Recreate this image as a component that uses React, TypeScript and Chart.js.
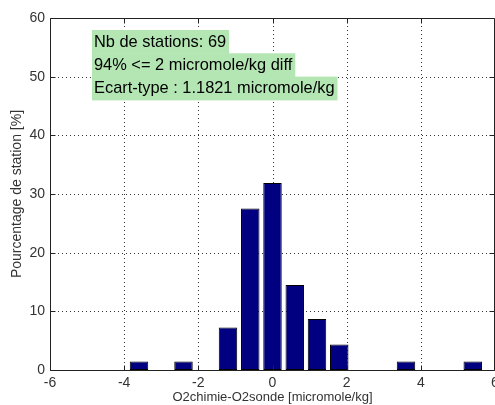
import React, { useEffect, useRef } from "react";
import { Chart, registerables } from "chart.js";

Chart.register(...registerables);

const binCenters = [-3.6, -2.4, -1.2, -0.6, 0, 0.6, 1.2, 1.8, 3.6, 5.4];
const percentages = [1.45, 1.45, 7.25, 27.54, 31.88, 14.49, 8.7, 4.35, 1.45, 1.45];
const xTicks = [-6, -4, -2, 0, 2, 4, 6];
const yTicks = [0, 10, 20, 30, 40, 50, 60];
const infoLines = [
  "Nb de stations: 69",
  "94% <= 2 micromole/kg diff",
  "Ecart-type : 1.1821 micromole/kg",
];
const xTitle = "O2chimie-O2sonde [micromole/kg]";
const yTitle = "Pourcentage de station [%]";

const FONT = '"Liberation Sans", Arial, Helvetica, sans-serif';

const matlabPlugin = {
  id: "matlabAxes",
  beforeDatasetsDraw(chart: any) {
    const { ctx, chartArea: a, scales } = chart;
    const xs = scales.x;
    const ys = scales.y;
    ctx.save();
    ctx.strokeStyle = "#333";
    ctx.lineWidth = 1;
    ctx.setLineDash([1, 3]);
    xTicks.forEach((t) => {
      if (t === xTicks[0] || t === xTicks[xTicks.length - 1]) return;
      const px = Math.round(xs.getPixelForValue(t)) + 0.5;
      ctx.beginPath();
      ctx.moveTo(px, a.top);
      ctx.lineTo(px, a.bottom);
      ctx.stroke();
    });
    yTicks.forEach((t) => {
      if (t === yTicks[0] || t === yTicks[yTicks.length - 1]) return;
      const py = Math.round(ys.getPixelForValue(t)) + 0.5;
      ctx.beginPath();
      ctx.moveTo(a.left, py);
      ctx.lineTo(a.right, py);
      ctx.stroke();
    });
    ctx.restore();
  },
  afterDatasetsDraw(chart: any) {
    const { ctx, chartArea: a, scales } = chart;
    const xs = scales.x;
    const ys = scales.y;
    ctx.save();
    ctx.strokeStyle = "#222";
    ctx.lineWidth = 1;
    ctx.setLineDash([]);
    const L = Math.round(a.left) + 0.5;
    const R = Math.round(a.right) - 0.5;
    const T = Math.round(a.top) + 0.5;
    const B = Math.round(a.bottom) + 0.5;
    ctx.beginPath();
    ctx.moveTo(L, T);
    ctx.lineTo(R, T);
    ctx.lineTo(R, B);
    ctx.lineTo(L, B);
    ctx.closePath();
    ctx.stroke();
    const tl = 5;
    xTicks.forEach((t) => {
      const px = Math.round(xs.getPixelForValue(t)) + 0.5;
      ctx.beginPath();
      ctx.moveTo(px, B);
      ctx.lineTo(px, B - tl);
      ctx.moveTo(px, T);
      ctx.lineTo(px, T + tl);
      ctx.stroke();
    });
    yTicks.forEach((t) => {
      const py = Math.round(ys.getPixelForValue(t)) + 0.5;
      ctx.beginPath();
      ctx.moveTo(L, py);
      ctx.lineTo(L + tl, py);
      ctx.moveTo(R, py);
      ctx.lineTo(R - tl, py);
      ctx.stroke();
    });
    ctx.restore();
  },
  afterDraw(chart: any) {
    const { ctx } = chart;
    ctx.save();
    ctx.font = `16.4px ${FONT}`;
    ctx.textBaseline = "middle";
    const x0 = 92;
    const y0 = 30;
    const lh = 23.3;
    infoLines.forEach((line, i) => {
      const w = ctx.measureText(line).width;
      ctx.fillStyle = "#b3e6b3";
      ctx.fillRect(x0, y0 + i * lh, w + 5, lh + 0.5);
    });
    infoLines.forEach((line, i) => {
      ctx.fillStyle = "#000";
      ctx.fillText(line, x0 + 2, y0 + i * lh + lh / 2 + 0.5);
    });
    ctx.restore();
  },
};

export default function App() {
  const ref = useRef<HTMLCanvasElement | null>(null);
  useEffect(() => {
    if (!ref.current) return;
    const chart = new Chart(ref.current, {
      type: "bar",
      data: {
        datasets: [
          {
            data: binCenters.map((x, i) => ({ x, y: percentages[i] })),
            backgroundColor: "#000080",
            borderColor: "#000000",
            borderWidth: 1,
            borderSkipped: false,
            barPercentage: 0.83,
            categoryPercentage: 1,
          },
        ],
      },
      options: {
        animation: false,
        responsive: false,
        maintainAspectRatio: false,
        layout: { padding: { top: 18, left: 0, right: 0, bottom: 0 } },
        plugins: {
          legend: { display: false },
          tooltip: { enabled: false },
        },
        scales: {
          x: {
            type: "linear",
            min: -6,
            max: 6,
            offset: false,
            grid: { display: false, drawTicks: false },
            border: { display: false },
            ticks: {
              stepSize: 2,
              padding: 5,
              color: "#333",
              font: { family: FONT, size: 14 },
              maxRotation: 0,
              autoSkip: false,
              callback: (v: any) => String(v),
            },
            title: {
              display: true,
              text: xTitle,
              color: "#333",
              font: { family: FONT, size: 13 },
              padding: { top: 0, bottom: 0 },
            },
            afterFit: (s: any) => {
              s.height = 35;
              s.paddingLeft = 0;
              s.paddingRight = 0;
            },
          },
          y: {
            type: "linear",
            min: 0,
            max: 60,
            grid: { display: false, drawTicks: false },
            border: { display: false },
            ticks: {
              stepSize: 10,
              padding: 5,
              color: "#333",
              font: { family: FONT, size: 14 },
            },
            title: {
              display: true,
              text: yTitle,
              color: "#333",
              font: { family: FONT, size: 14 },
              padding: { top: 9, bottom: 0 },
            },
            afterFit: (s: any) => {
              s.width = 50;
              s.paddingTop = 0;
              s.paddingBottom = 0;
            },
          },
        },
      },
      plugins: [matlabPlugin],
    });
    return () => chart.destroy();
  }, []);
  return (
    <div style={{ position: "fixed", left: 0, top: 0, width: 495, height: 405, background: "#fff" }}>
      <canvas ref={ref} width={495} height={405} style={{ display: "block" }} />
    </div>
  );
}
